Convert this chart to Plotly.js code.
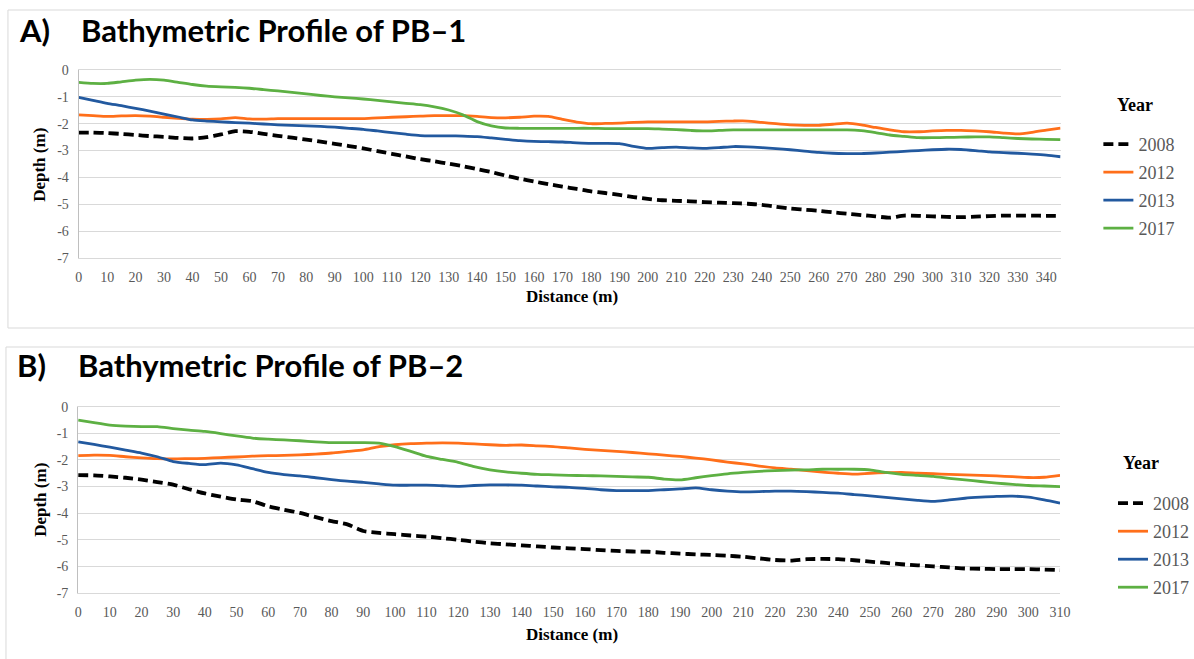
<!DOCTYPE html>
<html>
<head>
<meta charset="utf-8">
<script src="https://cdn.plot.ly/plotly-3.0.1.min.js"></script>
<style>html,body{margin:0;padding:0;background:#fff;}#chart{width:1194px;height:659px;}</style>
</head>
<body>
<div id="chart"></div>
<script>
// ---------- DATA ----------
const years = ['2008', '2012', '2013', '2017'];

// Panel A – PB-1
const distA = [0,5,10,15,20,25,30,35,40,45,50,55,60,65,70,75,80,85,90,95,100,105,110,115,120,125,130,135,140,145,150,155,160,165,170,175,180,185,190,195,200,205,210,215,220,225,230,235,240,245,250,255,260,265,270,275,280,285,290,295,300,305,310,315,320,325,330,335,340,345];
const pb1_2008 = [-2.33,-2.33,-2.35,-2.38,-2.42,-2.46,-2.49,-2.53,-2.55,-2.50,-2.40,-2.28,-2.30,-2.38,-2.45,-2.52,-2.59,-2.67,-2.75,-2.83,-2.92,-3.02,-3.12,-3.22,-3.32,-3.40,-3.49,-3.58,-3.69,-3.80,-3.93,-4.05,-4.15,-4.25,-4.34,-4.43,-4.52,-4.58,-4.65,-4.73,-4.80,-4.85,-4.87,-4.89,-4.92,-4.94,-4.96,-4.98,-5.02,-5.09,-5.16,-5.20,-5.24,-5.30,-5.35,-5.40,-5.45,-5.50,-5.42,-5.43,-5.45,-5.47,-5.48,-5.46,-5.44,-5.42,-5.42,-5.42,-5.43,-5.43];
const pb1_2012 = [-1.67,-1.70,-1.73,-1.71,-1.70,-1.72,-1.76,-1.80,-1.83,-1.84,-1.82,-1.77,-1.82,-1.83,-1.81,-1.81,-1.81,-1.81,-1.81,-1.81,-1.81,-1.78,-1.76,-1.74,-1.72,-1.70,-1.70,-1.70,-1.73,-1.77,-1.78,-1.76,-1.72,-1.73,-1.84,-1.94,-2.00,-1.99,-1.98,-1.95,-1.93,-1.93,-1.93,-1.93,-1.93,-1.91,-1.90,-1.90,-1.95,-2.00,-2.04,-2.06,-2.06,-2.02,-1.98,-2.04,-2.14,-2.23,-2.30,-2.30,-2.27,-2.25,-2.25,-2.27,-2.30,-2.35,-2.38,-2.32,-2.24,-2.16];
const pb1_2013 = [-1.02,-1.13,-1.24,-1.33,-1.43,-1.53,-1.64,-1.75,-1.86,-1.90,-1.93,-1.96,-1.98,-2.01,-2.04,-2.06,-2.08,-2.10,-2.13,-2.17,-2.21,-2.27,-2.33,-2.39,-2.44,-2.45,-2.45,-2.46,-2.48,-2.53,-2.58,-2.63,-2.66,-2.67,-2.68,-2.71,-2.73,-2.73,-2.74,-2.84,-2.92,-2.89,-2.87,-2.90,-2.92,-2.89,-2.85,-2.86,-2.89,-2.93,-2.97,-3.02,-3.07,-3.10,-3.11,-3.11,-3.09,-3.06,-3.03,-3.00,-2.97,-2.95,-2.96,-3.00,-3.05,-3.08,-3.10,-3.13,-3.17,-3.23];
const pb1_2017 = [-0.46,-0.50,-0.50,-0.44,-0.38,-0.35,-0.38,-0.46,-0.54,-0.60,-0.63,-0.65,-0.68,-0.73,-0.78,-0.83,-0.89,-0.95,-1.00,-1.04,-1.08,-1.13,-1.19,-1.24,-1.29,-1.37,-1.49,-1.67,-1.92,-2.08,-2.16,-2.17,-2.17,-2.17,-2.17,-2.17,-2.17,-2.18,-2.18,-2.18,-2.18,-2.20,-2.22,-2.25,-2.27,-2.25,-2.23,-2.23,-2.23,-2.23,-2.23,-2.23,-2.23,-2.23,-2.23,-2.26,-2.33,-2.42,-2.47,-2.52,-2.52,-2.51,-2.50,-2.49,-2.49,-2.52,-2.55,-2.57,-2.58,-2.59];

// Panel B – PB-2
const distB = [0,5,10,15,20,25,30,35,40,45,50,55,60,65,70,75,80,85,90,95,100,105,110,115,120,125,130,135,140,145,150,155,160,165,170,175,180,185,190,195,200,205,210,215,220,225,230,235,240,245,250,255,260,265,270,275,280,285,290,295,300,305,310];
const pb2_2008 = [-2.57,-2.58,-2.62,-2.67,-2.74,-2.83,-2.93,-3.10,-3.26,-3.38,-3.49,-3.55,-3.74,-3.87,-3.99,-4.15,-4.30,-4.42,-4.67,-4.74,-4.79,-4.84,-4.88,-4.94,-5.00,-5.07,-5.13,-5.17,-5.21,-5.25,-5.29,-5.32,-5.35,-5.39,-5.42,-5.44,-5.45,-5.49,-5.52,-5.55,-5.57,-5.60,-5.64,-5.70,-5.76,-5.78,-5.73,-5.72,-5.73,-5.77,-5.82,-5.87,-5.92,-5.96,-6.00,-6.04,-6.08,-6.09,-6.10,-6.10,-6.10,-6.12,-6.14];
const pb2_2012 = [-1.84,-1.82,-1.83,-1.88,-1.92,-1.95,-1.96,-1.95,-1.94,-1.91,-1.89,-1.86,-1.84,-1.83,-1.81,-1.78,-1.74,-1.68,-1.62,-1.50,-1.43,-1.39,-1.37,-1.36,-1.37,-1.40,-1.43,-1.45,-1.44,-1.47,-1.50,-1.55,-1.60,-1.64,-1.68,-1.72,-1.77,-1.82,-1.87,-1.93,-2.00,-2.08,-2.15,-2.23,-2.30,-2.35,-2.40,-2.46,-2.50,-2.53,-2.50,-2.48,-2.47,-2.50,-2.52,-2.54,-2.56,-2.58,-2.60,-2.63,-2.66,-2.65,-2.58];
const pb2_2013 = [-1.32,-1.42,-1.52,-1.63,-1.74,-1.88,-2.06,-2.13,-2.18,-2.12,-2.19,-2.33,-2.47,-2.55,-2.60,-2.67,-2.74,-2.80,-2.84,-2.90,-2.95,-2.95,-2.95,-2.97,-2.99,-2.96,-2.94,-2.94,-2.95,-2.98,-3.01,-3.03,-3.07,-3.12,-3.15,-3.15,-3.15,-3.12,-3.09,-3.05,-3.12,-3.17,-3.20,-3.19,-3.17,-3.17,-3.19,-3.22,-3.25,-3.30,-3.35,-3.41,-3.46,-3.52,-3.56,-3.50,-3.44,-3.40,-3.37,-3.36,-3.40,-3.50,-3.62];
const pb2_2017 = [-0.50,-0.60,-0.69,-0.73,-0.75,-0.75,-0.82,-0.88,-0.93,-1.01,-1.10,-1.18,-1.22,-1.25,-1.28,-1.32,-1.35,-1.35,-1.35,-1.37,-1.50,-1.68,-1.87,-1.98,-2.09,-2.25,-2.37,-2.45,-2.50,-2.54,-2.56,-2.58,-2.59,-2.60,-2.62,-2.64,-2.65,-2.72,-2.75,-2.67,-2.59,-2.52,-2.47,-2.43,-2.40,-2.38,-2.37,-2.35,-2.35,-2.35,-2.37,-2.47,-2.54,-2.58,-2.62,-2.69,-2.75,-2.81,-2.87,-2.92,-2.96,-2.98,-3.00];

const xTicksA = [0,10,20,30,40,50,60,70,80,90,100,110,120,130,140,150,160,170,180,190,200,210,220,230,240,250,260,270,280,290,300,310,320,330,340];
const xTicksB = [0,10,20,30,40,50,60,70,80,90,100,110,120,130,140,150,160,170,180,190,200,210,220,230,240,250,260,270,280,290,300,310];
const yTickVals = [0,-1,-2,-3,-4,-5,-6,-7];
const yTickText = ['0','-1','-2','-3','-4','-5','-6','-7'];

// ---------- STYLE ----------
const W = 1194, H = 659;
const px = x => x / W;
const py = y => 1 - y / H;
const colors = {'2008':'#000000','2012':'#FF6F1A','2013':'#22599F','2017':'#5DB043'};
const serif = 'Liberation Serif, Times New Roman, serif';

function mk(x, y, yr, xa, ya, leg) {
  const isDash = yr === '2008';
  return {
    x: x, y: y, name: yr, type: 'scatter', mode: 'lines',
    xaxis: xa, yaxis: ya, legend: leg, legendgroup: leg + yr,
    line: {color: colors[yr], width: isDash ? 3.8 : 2.8, dash: isDash ? '10px,5px' : 'solid', shape: 'spline', smoothing: 0.6},
    hoverinfo: 'x+y+name'
  };
}
const seriesA = [pb1_2008, pb1_2012, pb1_2013, pb1_2017];
const seriesB = [pb2_2008, pb2_2012, pb2_2013, pb2_2017];
const traces = [];
years.forEach((yr, i) => traces.push(mk(distA, seriesA[i], yr, 'x', 'y', 'legend')));
years.forEach((yr, i) => traces.push(mk(distB, seriesB[i], yr, 'x2', 'y2', 'legend2')));

const tickFont = {family: serif, size: 14, color: '#595959'};
function yax(dom) {
  return {domain: dom, range: [-7, 0], tickvals: yTickVals, ticktext: yTickText, tickfont: tickFont,
    showgrid: true, gridcolor: '#d9d9d9', gridwidth: 1, zeroline: false, showline: true, linecolor: '#bfbfbf',
    ticks: '', ticklabelstandoff: 6, fixedrange: true};
}
function xax(dom, rng, tv, anchor) {
  return {domain: dom, range: rng, tickvals: tv, ticktext: tv.map(String), tickfont: tickFont, anchor: anchor,
    showgrid: false, zeroline: false, showline: true, mirror: true, linecolor: '#d9d9d9', ticks: '',
    ticklabelstandoff: 6, fixedrange: true};
}
const legendFont = {family: serif, size: 18, color: '#595959'};
function leg(x, y) {
  return {x: x, y: y, xanchor: 'left', yanchor: 'top', orientation: 'v', font: legendFont,
    bgcolor: 'rgba(0,0,0,0)', borderwidth: 0, tracegroupgap: 1.6, itemwidth: 30};
}
const titleFont = {family: 'Lato, Open Sans, sans-serif', size: 31, color: '#000'};
const axTitleFont = {family: serif, size: 17, color: '#000'};
function ann(text, x, y, font, opts) {
  return Object.assign({text: text, x: px(x), y: py(y), xref: 'paper', yref: 'paper', showarrow: false, font: font}, opts || {});
}

const layout = {
  width: W, height: H, autosize: false,
  margin: {l: 0, r: 0, t: 0, b: 0},
  paper_bgcolor: '#fff', plot_bgcolor: '#fff',
  showlegend: true,
  xaxis: xax([px(79), px(1065)], [0, 345], xTicksA, 'y'),
  yaxis: yax([py(258), py(70)]),
  xaxis2: xax([px(78.5), px(1064.5)], [0, 310], xTicksB, 'y2'),
  yaxis2: Object.assign(yax([py(593), py(406.7)]), {anchor: 'x2'}),
  legend: leg(px(1103), py(126)),
  legend2: leg(px(1118), py(485)),
  shapes: [
    {type: 'rect', xref: 'paper', yref: 'paper', x0: px(8), x1: px(1210), y0: py(10), y1: py(328), line: {color: '#d9d9d9', width: 1}},
    {type: 'rect', xref: 'paper', yref: 'paper', x0: px(6), x1: px(1210), y0: py(347), y1: py(670), line: {color: '#d9d9d9', width: 1}}
  ],
  annotations: [
    ann('<b>A)</b>', 17, 30, titleFont, {xanchor: 'left', yanchor: 'middle'}),
    ann('<b>Bathymetric Profile of PB\u20131</b>', 79, 30, titleFont, {xanchor: 'left', yanchor: 'middle'}),
    ann('<b>B)</b>', 15, 365, titleFont, {xanchor: 'left', yanchor: 'middle'}),
    ann('<b>Bathymetric Profile of PB\u20132</b>', 76, 365, titleFont, {xanchor: 'left', yanchor: 'middle'}),
    ann('<b>Depth (m)</b>', 40, 165, axTitleFont, {textangle: -90, xanchor: 'center', yanchor: 'middle'}),
    ann('<b>Depth (m)</b>', 40, 500, axTitleFont, {textangle: -90, xanchor: 'center', yanchor: 'middle'}),
    ann('<b>Distance (m)</b>', 574, 297, axTitleFont, {xanchor: 'center', yanchor: 'middle'}),
    ann('<b>Distance (m)</b>', 574, 634, axTitleFont, {xanchor: 'center', yanchor: 'middle'}),
    ann('<b>Year</b>', 1140, 105, {family: serif, size: 18, color: '#000'}, {xanchor: 'center', yanchor: 'middle'}),
    ann('<b>Year</b>', 1146, 463, {family: serif, size: 18, color: '#000'}, {xanchor: 'center', yanchor: 'middle'})
  ]
};
Plotly.newPlot('chart', traces, layout, {displayModeBar: false, staticPlot: false});
</script>
</body>
</html>
